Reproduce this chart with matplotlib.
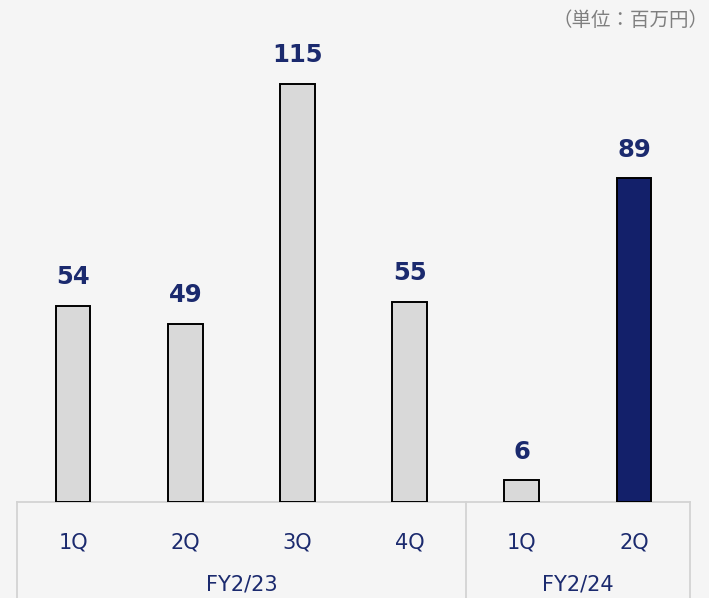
import matplotlib.pyplot as plt
import matplotlib.transforms as mtransforms

# data
quarters = ["1Q", "2Q", "3Q", "4Q", "1Q", "2Q"]
values = [54, 49, 115, 55, 6, 89]
years = ["FY2/23", "FY2/24"]
year_spans = [(0, 3), (4, 5)]
unit_label = "（単位：百万円）"

BG = "#f5f5f5"
GRAY = "#d9d9d9"
NAVY = "#13206a"
TEXT_NAVY = "#1b2a6e"
LINE = "#d3d3d3"

fig = plt.figure(figsize=(7.09, 5.98), dpi=100, facecolor=BG)
ax = fig.add_axes([17 / 709, 96 / 598, 673 / 709, 502 / 598])
ax.set_facecolor(BG)

x = list(range(len(values)))
colors = [GRAY] * (len(values) - 1) + [NAVY]
bars = ax.bar(x, values, width=0.31, color=colors, edgecolor="#000000", linewidth=1.4, zorder=3)

for b, v in zip(bars, values):
    ax.annotate(str(v), (b.get_x() + b.get_width() / 2, v), xytext=(0, 12),
                textcoords="offset points", ha="center", va="bottom",
                fontsize=17.5, fontweight="bold", color=TEXT_NAVY)

ax.set_xlim(-0.5, len(values) - 0.5)
ax.set_ylim(0, 138)
for s in ax.spines.values():
    s.set_visible(False)
ax.set_yticks([])
ax.set_xticks(x)
ax.set_xticklabels(quarters, fontsize=15, color=TEXT_NAVY)
ax.tick_params(axis="x", length=0, pad=22)

# table-style category frame below the plot
trans = mtransforms.blended_transform_factory(ax.transData, ax.transAxes)
ax.plot([-0.5, len(values) - 0.5], [0, 0], color=LINE, lw=1.3, transform=trans, clip_on=False, zorder=2)
for xv in [-0.5, 3.5, len(values) - 0.5]:
    ax.plot([xv, xv], [0, -0.3], color=LINE, lw=1.3, transform=trans, clip_on=False)

for name, (a, b) in zip(years, year_spans):
    ax.text((a + b) / 2, -0.165, name, transform=trans, ha="center", va="center",
            fontsize=15, color=TEXT_NAVY)

fig.text(0.999, 0.965, unit_label, ha="right", va="center", fontsize=14,
         color="#7f7f7f", family=["Noto Sans CJK JP", "DejaVu Sans"])

fig.savefig("out.png", dpi=100, facecolor=BG)
